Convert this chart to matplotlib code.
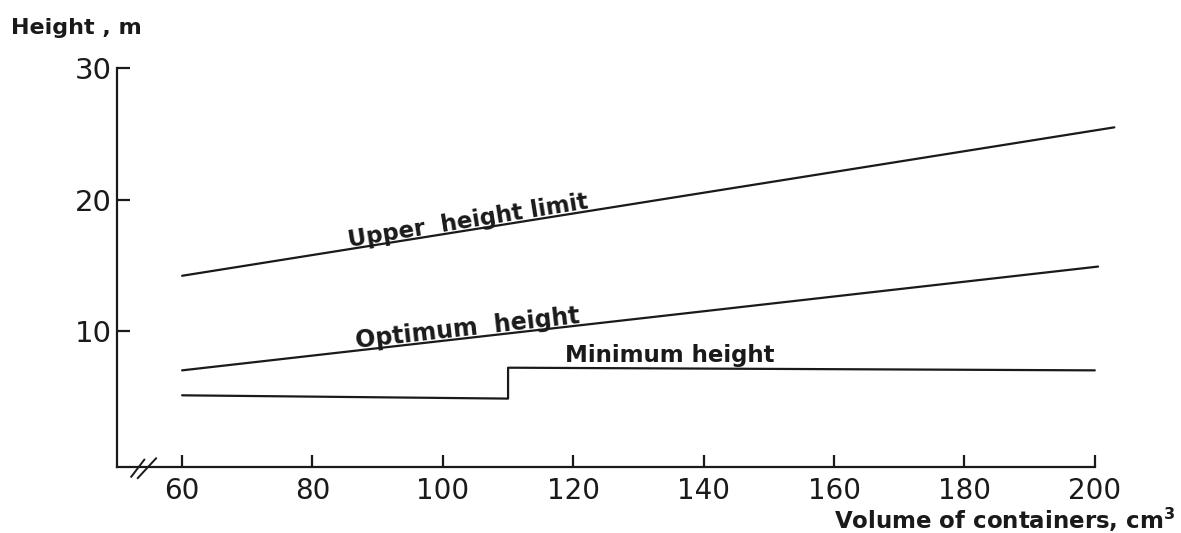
import matplotlib
matplotlib.use("Agg")
import matplotlib.pyplot as plt

# Data
upper_x = [60, 203]
upper_y = [14.2, 25.5]
optimum_x = [60, 200.5]
optimum_y = [7.0, 14.9]
minimum_x = [60, 110, 110, 111, 200]
minimum_y = [5.1, 4.85, 7.2, 7.2, 7.0]
x_ticks = [60, 80, 100, 120, 140, 160, 180, 200]
y_ticks = [10, 20, 30]

plt.rcParams['font.family'] = ['DejaVu Sans']
fig = plt.figure(figsize=(11.81, 5.33), dpi=100)
ax = fig.add_axes([0.099, 0.124, 0.828, 0.748])

lc = '#1a1a1a'
for xs, ys in [(upper_x, upper_y), (optimum_x, optimum_y), (minimum_x, minimum_y)]:
    ax.plot(xs, ys, color=lc, lw=1.6, solid_capstyle='round', clip_on=False)

ax.set_xlim(50, 200)
ax.set_ylim(-0.35, 30)
ax.spines['top'].set_visible(False)
ax.spines['right'].set_visible(False)
for s in ['left', 'bottom']:
    ax.spines[s].set_linewidth(1.6)
    ax.spines[s].set_color(lc)

ax.set_xticks(x_ticks)
ax.set_xticklabels([str(v) for v in x_ticks])
ax.set_yticks(y_ticks)
ax.set_yticklabels([str(v) for v in y_ticks])
ax.tick_params(axis='x', direction='in', length=9, width=1.6, pad=7,
               labelsize=20, colors=lc)
ax.tick_params(axis='y', direction='in', length=9, width=1.6, pad=4,
               labelsize=21, colors=lc)

# axis break marks
ax.plot([52.2, 54.2], [-1.1, 0.2], color=lc, lw=1.4, clip_on=False)
ax.plot([53.2, 56.0], [-1.2, 0.3], color=lc, lw=1.4, clip_on=False)

# line labels
ax.text(85.6, 16.4, 'Upper  height limit', rotation=9.2, fontsize=16.5,
        fontweight='bold', color=lc, ha='left', va='baseline',
        rotation_mode='anchor')
ax.text(86.7, 8.7, 'Optimum  height', rotation=6.4, fontsize=17,
        fontweight='bold', color=lc, ha='left', va='baseline',
        rotation_mode='anchor')
ax.text(118.8, 7.65, 'Minimum height', fontsize=16.5, fontweight='bold',
        color=lc, ha='left', va='baseline')

fig.text(0.009, 0.937, 'Height , m', fontsize=16, fontweight='bold',
         color=lc, ha='left', va='baseline')
fig.text(0.995, 0.008, 'Volume of containers, cm$^{\\mathbf{3}}$', fontsize=16.5,
         fontweight='bold', color=lc, ha='right', va='baseline')

fig.savefig('out.png', dpi=100)
